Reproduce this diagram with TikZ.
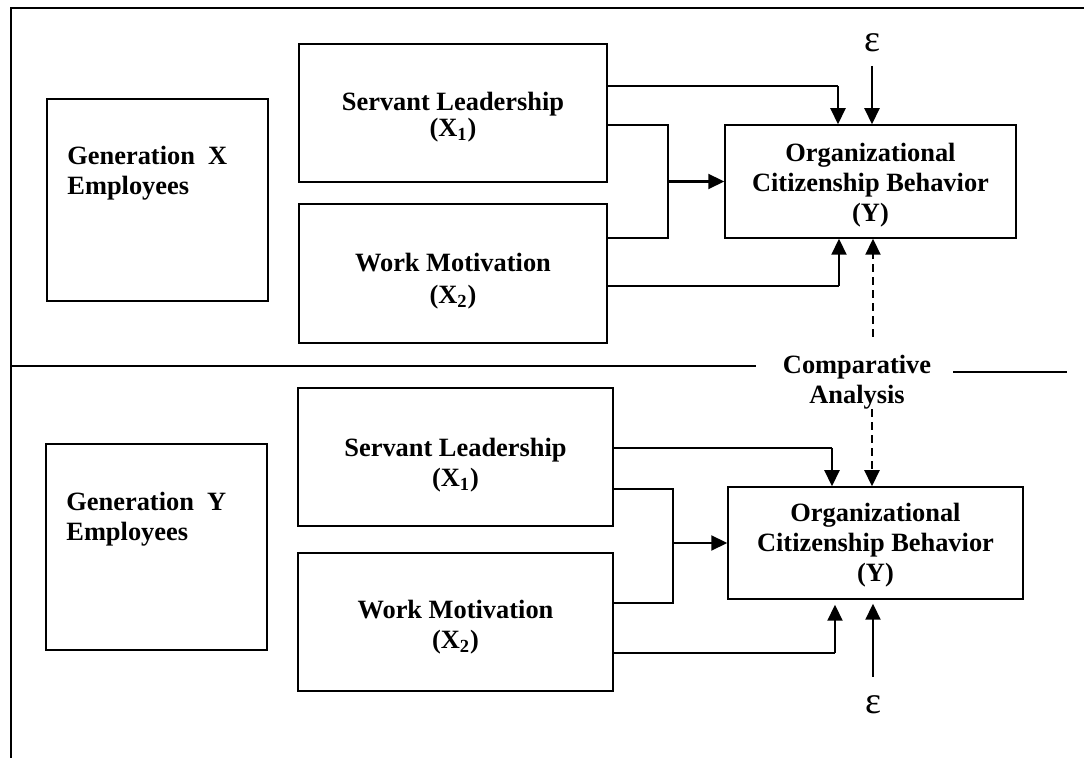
\documentclass[tikz,border=0pt]{standalone}
\usepackage{fontspec}
\setmainfont{Liberation Serif}
\usetikzlibrary{arrows.meta}
\begin{document}
\begin{tikzpicture}[x=0.5pt,y=-0.5pt,
  box/.style={draw, line width=0.75pt, inner sep=0pt},
  txt/.style={inner sep=0pt, align=center, font=\fontsize{13.2}{15}\selectfont\bfseries},
  lbl/.style={inner sep=0pt, align=left, font=\fontsize{13.2}{15}\selectfont\bfseries},
  frame/.style={line width=1pt},
  conn/.style={line width=0.75pt},
  arr/.style={line width=1.1pt, -{Triangle[width=7.5pt,length=8pt]}},
  darr/.style={line width=1.1pt, dash pattern=on 4pt off 2.5pt, -{Triangle[width=7.5pt,length=8pt]}},
  epsl/.style={inner sep=0pt, font=\fontsize{19}{22}\selectfont}
]
\useasboundingbox (0,0) rectangle (1084,758);
% outer frame and divider
\draw[frame] (11,758) -- (11,8) -- (1084,8);
\draw[frame] (11,366) -- (756,366);
\draw[frame] (953,372) -- (1067,372);
\node[txt] (comp) at (857,382) {Comparative\\Analysis};

% ---------- top panel ----------
\node[box, minimum width=110.5pt, minimum height=101pt] (genx) at (157.5,200) {};
\node[lbl, anchor=north west] (genxt) at (67,146) {Generation~ X\\Employees};
\node[box, minimum width=154pt, minimum height=69pt] (sl1) at (453,113) {};
\node[txt] (sl1t) at (453,117) {Servant Leadership\\[-2pt](X\textsubscript{1})};
\node[box, minimum width=154pt, minimum height=69.5pt] (wm1) at (453,273.5) {};
\node[txt] (wm1t) at (453,281) {Work Motivation\\[1pt](X\textsubscript{2})};
\node[box, minimum width=145.5pt, minimum height=56.5pt] (ocb1) at (870.5,181.5) {};
\node[txt] (ocb1t) at (870.5,185) {Organizational\\Citizenship Behavior\\(Y)};
\node[epsl] (eps1) at (872,43) {ε};

\coordinate (a1) at (838,86);
\draw[conn] (sl1.east |- a1) -- (a1);
\draw[arr] (a1) -- (ocb1.north -| a1);
\coordinate (e1) at (872,66);
\draw[arr] (e1) -- (ocb1.north -| e1);
\draw[conn] (sl1.east |- 0,125) -- (668,125) -- (668,238) -- (wm1.east |- 0,238);
\draw[arr] (ocb1.west -| 668,0) -- (ocb1.west);
\coordinate (b1) at (839,286);
\draw[conn] (wm1.east |- b1) -- (b1);
\draw[arr] (b1) -- (ocb1.south -| b1);
\draw[darr] (873,337) -- (ocb1.south -| 873,0);

% ---------- bottom panel ----------
\node[box, minimum width=110.5pt, minimum height=103pt] (geny) at (156.5,547) {};
\node[lbl, anchor=north west] (genyt) at (66,492) {Generation~ Y\\Employees};
\node[box, minimum width=157.5pt, minimum height=69pt] (sl2) at (455.5,457) {};
\node[txt] (sl2t) at (455.5,465) {Servant Leadership\\(X\textsubscript{1})};
\node[box, minimum width=157.5pt, minimum height=69pt] (wm2) at (455.5,622) {};
\node[txt] (wm2t) at (455.5,627) {Work Motivation\\(X\textsubscript{2})};
\node[box, minimum width=147.5pt, minimum height=56pt] (ocb2) at (875.5,543) {};
\node[txt] (ocb2t) at (875.5,545) {Organizational\\Citizenship Behavior\\(Y)};
\node[epsl] (eps2) at (873,705) {ε};

\coordinate (a2) at (832,448);
\draw[conn] (sl2.east |- a2) -- (a2);
\draw[arr] (a2) -- (ocb2.north -| a2);
\draw[darr] (comp.south -| 872,0) -- (ocb2.north -| 872,0);
\draw[conn] (sl2.east |- 0,489) -- (673,489) -- (673,603) -- (wm2.east |- 0,603);
\draw[arr] (ocb2.west -| 673,0) -- (ocb2.west);
\coordinate (b2) at (835,653);
\draw[conn] (wm2.east |- b2) -- (b2);
\draw[arr, shorten >=2.5pt] (b2) -- (ocb2.south -| b2);
\coordinate (e2) at (873,677);
\draw[arr, shorten >=2pt] (e2) -- (ocb2.south -| e2);
\end{tikzpicture}
\end{document}
